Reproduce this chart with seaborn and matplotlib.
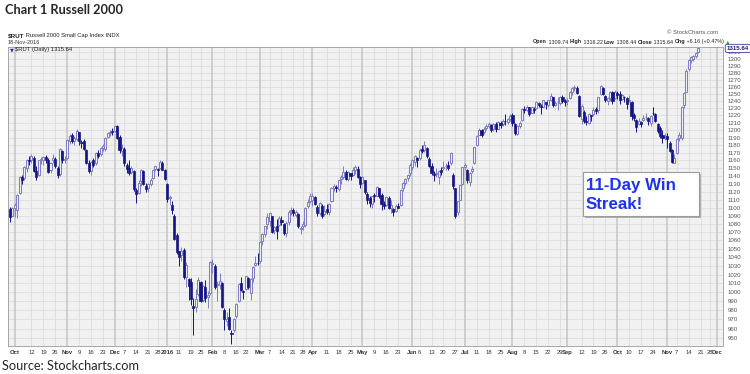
import numpy as np
import pandas as pd
import matplotlib
matplotlib.use("Agg")
import matplotlib.pyplot as plt
import seaborn as sns
from matplotlib.patches import FancyBboxPatch
from matplotlib.ticker import FixedLocator, FixedFormatter, NullLocator

# daily candles (open, high, low, close)
sep15 = [(1098, 1101, 1082, 1088), (1090, 1101, 1089, 1100)]
oct15 = [
    (1100, 1106, 1088, 1103), (1097, 1117, 1087, 1116), (1118, 1140, 1117, 1138),
    (1138, 1141, 1130, 1135), (1137, 1153, 1134, 1151), (1150, 1162, 1145, 1160),
    (1161, 1165, 1154, 1159), (1160, 1168, 1157, 1166), (1163, 1166, 1145, 1146),
    (1146, 1152, 1135, 1139), (1141, 1161, 1140, 1160), (1161, 1164, 1155, 1162),
    (1160, 1166, 1154, 1164), (1164, 1167, 1157, 1160), (1161, 1163, 1143, 1145),
    (1147, 1158, 1144, 1156), (1160, 1168, 1156, 1163), (1162, 1164, 1150, 1152),
    (1150, 1152, 1137, 1141), (1142, 1176, 1140, 1175), (1172, 1174, 1157, 1160),
    (1161, 1166, 1156, 1162),
]
nov15 = [
    (1163, 1188, 1162, 1187), (1186, 1195, 1182, 1192), (1193, 1196, 1183, 1186),
    (1186, 1192, 1180, 1190), (1188, 1202, 1186, 1199), (1197, 1198, 1180, 1186),
    (1184, 1187, 1176, 1183), (1186, 1188, 1173, 1175), (1173, 1175, 1155, 1157),
    (1156, 1160, 1143, 1146), (1146, 1159, 1141, 1158), (1160, 1163, 1151, 1154),
    (1156, 1171, 1154, 1170), (1170, 1174, 1163, 1166), (1168, 1178, 1165, 1176),
    (1176, 1181, 1172, 1179), (1175, 1191, 1172, 1190), (1191, 1198, 1189, 1196),
    (1196, 1200, 1192, 1198), (1199, 1203, 1193, 1198),
]
dec15 = [
    (1199, 1206, 1197, 1205), (1205, 1207, 1188, 1190), (1191, 1194, 1170, 1173),
    (1172, 1181, 1166, 1176), (1175, 1177, 1153, 1156), (1154, 1157, 1144, 1149),
    (1150, 1160, 1141, 1144), (1145, 1153, 1142, 1150), (1146, 1148, 1121, 1123),
    (1122, 1124, 1106, 1117), (1118, 1134, 1117, 1131), (1133, 1149, 1127, 1147),
    (1146, 1148, 1128, 1129), (1127, 1131, 1119, 1123), (1124, 1131, 1120, 1129),
    (1130, 1137, 1127, 1135), (1137, 1149, 1136, 1148), (1149, 1153, 1146, 1152),
    (1149, 1150, 1140, 1147), (1150, 1160, 1149, 1158), (1157, 1159, 1147, 1148),
    (1147, 1149, 1135, 1136),
]
jan16 = [
    (1130, 1131, 1107, 1111), (1112, 1116, 1103, 1113), (1103, 1108, 1092, 1097),
    (1089, 1092, 1061, 1062), (1066, 1069, 1044, 1046), (1047, 1048, 1030, 1040),
    (1043, 1052, 1036, 1047), (1049, 1051, 1015, 1017), (1017, 1035, 1006, 1031),
    (1015, 1016, 991, 1007), (1012, 1016, 986, 992), (985, 994, 953, 983),
    (984, 1004, 978, 993), (998, 1017, 996, 1014), (1012, 1013, 989, 990),
    (991, 1008, 989, 1007), (1006, 1014, 989, 994), (995, 1002, 983, 997),
    (999, 1036, 997, 1035),
]
feb16 = [
    (1032, 1038, 1022, 1034), (1030, 1032, 1004, 1006), (1008, 1013, 990, 1009),
    (1008, 1022, 1004, 1013), (1011, 1012, 982, 984), (980, 982, 958, 970),
    (968, 978, 963, 970), (973, 982, 958, 960), (955, 958, 943, 954),
    (958, 971, 956, 970), (974, 988, 972, 987), (990, 1010, 989, 1009),
    (1010, 1017, 1001, 1003), (1001, 1003, 993, 1000), (1004, 1019, 1003, 1018),
    (1016, 1017, 1004, 1006), (999, 1016, 991, 1015), (1016, 1030, 1012, 1029),
    (1031, 1042, 1030, 1033), (1034, 1045, 1031, 1033),
]
mar16 = [
    (1036, 1059, 1034, 1058), (1059, 1069, 1055, 1068), (1068, 1078, 1064, 1077),
    (1080, 1093, 1074, 1088), (1084, 1095, 1078, 1093), (1089, 1090, 1069, 1070),
    (1072, 1078, 1068, 1076), (1078, 1086, 1062, 1071), (1079, 1089, 1077, 1087),
    (1085, 1089, 1079, 1082), (1080, 1081, 1066, 1069), (1069, 1083, 1064, 1081),
    (1082, 1097, 1079, 1095), (1096, 1101, 1091, 1097), (1097, 1099, 1089, 1093),
    (1091, 1097, 1088, 1094), (1092, 1093, 1075, 1077), (1074, 1078, 1068, 1075),
    (1077, 1083, 1073, 1080), (1079, 1101, 1076, 1100), (1102, 1111, 1099, 1107),
    (1108, 1118, 1106, 1114),
]
apr16 = [
    (1110, 1118, 1102, 1115), (1113, 1115, 1103, 1105), (1101, 1103, 1089, 1093),
    (1093, 1107, 1091, 1106), (1102, 1104, 1087, 1089), (1092, 1103, 1089, 1096),
    (1098, 1105, 1092, 1094), (1094, 1106, 1091, 1104), (1108, 1126, 1107, 1125),
    (1125, 1130, 1121, 1127), (1126, 1128, 1119, 1124), (1123, 1135, 1121, 1134),
    (1136, 1141, 1129, 1139), (1138, 1153, 1136, 1145), (1145, 1148, 1134, 1136),
    (1136, 1146, 1133, 1145), (1143, 1144, 1134, 1140), (1141, 1151, 1140, 1148),
    (1148, 1154, 1142, 1151), (1149, 1152, 1137, 1139), (1138, 1140, 1124, 1130),
]
may16 = [
    (1131, 1140, 1129, 1139), (1134, 1135, 1117, 1119), (1117, 1119, 1104, 1110),
    (1112, 1115, 1101, 1106), (1104, 1115, 1100, 1114), (1116, 1118, 1107, 1114),
    (1115, 1127, 1114, 1126), (1124, 1125, 1112, 1114), (1116, 1118, 1097, 1104),
    (1104, 1108, 1098, 1102), (1103, 1115, 1102, 1113), (1112, 1114, 1098, 1100),
    (1099, 1110, 1093, 1103), (1098, 1100, 1089, 1094), (1096, 1104, 1095, 1102),
    (1102, 1106, 1099, 1100), (1103, 1123, 1102, 1122), (1124, 1132, 1121, 1131),
    (1131, 1137, 1128, 1136), (1137, 1142, 1133, 1141), (1143, 1156, 1140, 1154),
]
jun16 = [
    (1151, 1162, 1147, 1160), (1158, 1167, 1152, 1165), (1163, 1164, 1151, 1161),
    (1163, 1176, 1161, 1174), (1175, 1180, 1169, 1172), (1174, 1185, 1171, 1180),
    (1176, 1177, 1163, 1166), (1162, 1164, 1151, 1153), (1152, 1156, 1141, 1143),
    (1142, 1146, 1133, 1141), (1142, 1150, 1139, 1143), (1139, 1147, 1129, 1146),
    (1147, 1151, 1141, 1145), (1150, 1159, 1148, 1151), (1152, 1156, 1147, 1153),
    (1154, 1159, 1148, 1150), (1156, 1171, 1154, 1169), (1141, 1143, 1123, 1127),
    (1124, 1125, 1087, 1089), (1094, 1108, 1091, 1108), (1110, 1128, 1109, 1128),
    (1130, 1151, 1128, 1151),
]
jul16 = [
    (1151, 1157, 1148, 1154), (1148, 1149, 1131, 1135), (1132, 1145, 1127, 1144),
    (1146, 1152, 1143, 1149), (1156, 1178, 1155, 1177), (1180, 1193, 1179, 1192),
    (1194, 1203, 1193, 1200), (1200, 1201, 1191, 1194), (1197, 1204, 1195, 1202),
    (1203, 1208, 1200, 1206), (1206, 1211, 1203, 1209), (1207, 1208, 1198, 1200),
    (1202, 1210, 1199, 1208), (1208, 1211, 1198, 1201), (1202, 1212, 1201, 1211),
    (1210, 1212, 1203, 1207), (1208, 1215, 1206, 1213), (1213, 1222, 1207, 1212),
    (1211, 1217, 1209, 1215), (1215, 1222, 1212, 1219),
]
aug16 = [
    (1221, 1224, 1206, 1210), (1208, 1210, 1193, 1196), (1195, 1207, 1194, 1206),
    (1206, 1212, 1203, 1210), (1214, 1230, 1213, 1229), (1229, 1233, 1224, 1227),
    (1228, 1234, 1226, 1232), (1231, 1232, 1219, 1222), (1224, 1232, 1223, 1231),
    (1229, 1231, 1224, 1228), (1230, 1240, 1229, 1239), (1237, 1239, 1231, 1234),
    (1233, 1236, 1222, 1232), (1232, 1242, 1231, 1241), (1238, 1239, 1229, 1236),
    (1235, 1242, 1232, 1241), (1242, 1251, 1240, 1247), (1245, 1246, 1232, 1235),
    (1235, 1240, 1233, 1237), (1238, 1246, 1228, 1238), (1237, 1247, 1235, 1245),
    (1245, 1248, 1237, 1240), (1240, 1243, 1233, 1239),
]
sep16 = [
    (1240, 1244, 1234, 1241), (1244, 1254, 1243, 1252), (1252, 1259, 1249, 1258),
    (1258, 1263, 1254, 1260), (1258, 1261, 1250, 1251), (1247, 1248, 1218, 1219),
    (1215, 1236, 1208, 1233), (1225, 1227, 1210, 1212), (1213, 1219, 1207, 1211),
    (1210, 1224, 1208, 1222), (1220, 1221, 1213, 1219), (1222, 1231, 1219, 1228),
    (1229, 1232, 1222, 1226), (1228, 1246, 1224, 1245), (1250, 1263, 1249, 1261),
    (1258, 1259, 1249, 1250), (1247, 1248, 1239, 1241), (1240, 1246, 1235, 1244),
    (1244, 1254, 1240, 1253), (1252, 1254, 1236, 1240), (1244, 1255, 1243, 1252),
]
oct16 = [
    (1251, 1254, 1243, 1249), (1250, 1254, 1236, 1241), (1243, 1250, 1242, 1248),
    (1246, 1247, 1238, 1245), (1244, 1246, 1229, 1236), (1240, 1248, 1238, 1241),
    (1239, 1240, 1214, 1219), (1220, 1223, 1213, 1217), (1214, 1215, 1198, 1204),
    (1208, 1217, 1207, 1212), (1211, 1213, 1204, 1208), (1214, 1221, 1212, 1217),
    (1218, 1223, 1214, 1218), (1216, 1218, 1207, 1212), (1210, 1220, 1205, 1219),
    (1224, 1232, 1220, 1223), (1222, 1223, 1211, 1213), (1208, 1210, 1196, 1199),
    (1203, 1205, 1190, 1192), (1193, 1200, 1183, 1190), (1191, 1196, 1187, 1191),
]
nov16 = [
    (1192, 1196, 1176, 1188), (1183, 1185, 1171, 1172), (1173, 1175, 1156, 1158),
    (1157, 1168, 1156, 1163), (1170, 1190, 1168, 1188), (1189, 1197, 1185, 1194),
    (1190, 1233, 1187, 1232), (1234, 1253, 1230, 1251), (1253, 1285, 1252, 1283),
    (1285, 1300, 1282, 1298), (1298, 1305, 1294, 1303), (1300, 1306, 1297, 1304),
    (1304, 1311, 1302, 1309), (1309.74, 1316.22, 1308.44, 1315.64),
]

holidays = ["2015-11-26", "2015-12-25", "2016-01-01", "2016-01-18", "2016-02-15",
            "2016-03-25", "2016-05-30", "2016-07-04", "2016-09-05", "2016-11-24"]
y_ticks = list(range(950, 1320, 10))

months = [sep15, oct15, nov15, dec15, jan16, feb16, mar16, apr16,
          may16, jun16, jul16, aug16, sep16, oct16, nov16]
df = pd.DataFrame([row for m in months for row in m],
                  columns=["open", "high", "low", "close"])
sessions = pd.bdate_range("2015-09-29", "2016-12-06", freq="C", holidays=holidays)
df["pos"] = np.arange(len(df))
df["up"] = df["close"] >= df["open"]

sns.set_style("white")
plt.rcParams["font.family"] = ["Liberation Sans", "DejaVu Sans"]

W, H = 750, 374
fig = plt.figure(figsize=(7.5, 3.74), dpi=100)

def fx(px):
    return px / W

def fy(py):
    return 1 - py / H

ax = fig.add_axes([fx(8), fy(346), fx(722.5) - fx(8), fy(46.5) - fy(346)])
ax.set_facecolor("#f1f1f1")
XMAX = 299.2
ax.set_xlim(-0.85, XMAX)
ax.set_yscale("log")
ax.set_ylim(941.4, 1318.4)

# horizontal grid
for v in y_ticks:
    ax.axhline(v, color="#dadada", lw=0.5, zorder=0)

# x labels: month starts and first session of each week
month_pos, week_pos = [], []
for i, d in enumerate(sessions):
    if i > XMAX:
        break
    if i > 0 and d.month != sessions[i - 1].month:
        month_pos.append((i, str(d.year) if d.month == 1 else d.strftime("%b")))
    if i == 0 or d.isocalendar()[1] != sessions[i - 1].isocalendar()[1]:
        week_pos.append((i, str(d.day)))
mset = [p for p, _ in month_pos]
week_pos = [(p, t) for p, t in week_pos if all(abs(p - m) >= 3 for m in mset)]
ticks = sorted(month_pos + week_pos)

for p, _ in week_pos:
    ax.axvline(p, color="#dcdcdc", lw=0.6, zorder=0)
for p in mset:
    ax.axvline(p, color="#c4c4c4", lw=1.1, zorder=0)

# candles
up = df[df["up"]]
dn = df[~df["up"]]
dark, light = "#151585", "#7f7fc2"
ax.vlines(up["pos"], up["low"], up["high"], color=light, lw=0.7, zorder=2)
ax.vlines(dn["pos"], dn["low"], dn["high"], color=dark, lw=0.7, zorder=2)
ax.bar(up["pos"], np.maximum(up["close"] - up["open"], 0.5), bottom=up["open"],
       width=0.85, facecolor="#f4f4fb", edgecolor=light, linewidth=0.75, zorder=3)
ax.bar(dn["pos"], np.maximum(dn["open"] - dn["close"], 0.5), bottom=dn["close"],
       width=0.9, facecolor=dark, edgecolor=dark, linewidth=0.5, zorder=3)

ax.xaxis.set_major_locator(FixedLocator([p for p, _ in ticks]))
ax.xaxis.set_major_formatter(FixedFormatter([t for _, t in ticks]))
ax.xaxis.set_minor_locator(NullLocator())
ax.tick_params(axis="x", length=0, pad=3, labelsize=4.2, colors="#333333")
for lbl, (p, t) in zip(ax.get_xticklabels(), ticks):
    if p in mset:
        lbl.set_fontweight("bold")

ax.yaxis.tick_right()
ax.yaxis.set_major_locator(FixedLocator(y_ticks))
ax.yaxis.set_major_formatter(FixedFormatter([str(v) for v in y_ticks]))
ax.yaxis.set_minor_locator(NullLocator())
ax.tick_params(axis="y", length=0, pad=4, labelsize=4.4, colors="#555555")

for s in ax.spines.values():
    s.set_color("#9a9a9a")
    s.set_linewidth(0.6)

# last price tag
last = df["close"].iloc[-1]
ax.annotate(f"{last:.2f}", xy=(1.006, last), xycoords=("axes fraction", "data"),
            fontsize=4.4, fontweight="bold", color="#1a1a80", va="center", ha="left",
            bbox=dict(boxstyle="round,pad=0.25", fc="white", ec="#3a3aa0", lw=0.6),
            annotation_clip=False)

# header texts
fig.text(fx(5), fy(10), "Chart 1 Russell 2000", fontsize=9.2, fontweight="bold",
         family="Lato", va="center", ha="left")
fig.text(fx(2), fy(366), "Source: Stockcharts.com", fontsize=9.2,
         family="Lato", va="center", ha="left")

t = fig.text(fx(8), fy(36), "$RUT", fontsize=4.6, fontweight="bold", va="center")
ax.annotate(" Russell 2000 Small Cap Index INDX", xy=(1, 0.5), xycoords=t,
            fontsize=4.2, va="center", ha="left", color="#222222")
fig.text(fx(8), fy(42), "18-Nov-2016", fontsize=4.0, va="center", color="#333333")
fig.text(fx(10), fy(50), "\u25bc", fontsize=3.6, va="center", color="#2a2aa8",
         family="DejaVu Sans")
fig.text(fx(15), fy(50), "$RUT (Daily) 1315.64", fontsize=4.2, va="center",
         color="#222222")
fig.text(fx(718), fy(33), "\u00a9 StockCharts.com", fontsize=4.2, va="center",
         ha="right", color="#555555")

pieces = [("Open", True), (" 1309.74 ", False), ("High", True), (" 1316.22 ", False),
          ("Low", True), (" 1308.44 ", False), ("Close", True), (" 1315.64 ", False),
          ("Chg", True), (" +6.16 (+0.47%) ", False)]
t = None
for txt, bold in pieces:
    weight = "bold" if bold else "normal"
    if t is None:
        t = fig.text(fx(533), fy(42), txt, fontsize=3.9, va="center",
                     fontweight=weight)
    else:
        t = ax.annotate(txt, xy=(1, 0.5), xycoords=t, fontsize=3.9, va="center",
                        ha="left", fontweight=weight, color="#222222")
ax.annotate("\u25b2", xy=(1, 0.5), xycoords=t, fontsize=3.4, va="center",
            ha="left", color="#22aa22", family="DejaVu Sans")

# callout box
shadow = FancyBboxPatch((fx(585), fy(218)), fx(116), fy(174) - fy(218),
                        boxstyle="square,pad=0", transform=fig.transFigure,
                        fc="#b0b0b0", ec="none", zorder=5)
box = FancyBboxPatch((fx(583), fy(216)), fx(116), fy(172) - fy(216),
                     boxstyle="square,pad=0", transform=fig.transFigure,
                     fc="white", ec="#9a9a9a", lw=0.8, zorder=6)
fig.patches.extend([shadow, box])
fig.text(fx(586), fy(185.5), "11-Day Win", fontsize=12.2, fontweight="bold",
         color="#1c33f2", va="center", ha="left", zorder=7)
fig.text(fx(586), fy(204.5), "Streak!", fontsize=12.2, fontweight="bold",
         color="#1c33f2", va="center", ha="left", zorder=7)

fig.savefig("out.png", dpi=100)
